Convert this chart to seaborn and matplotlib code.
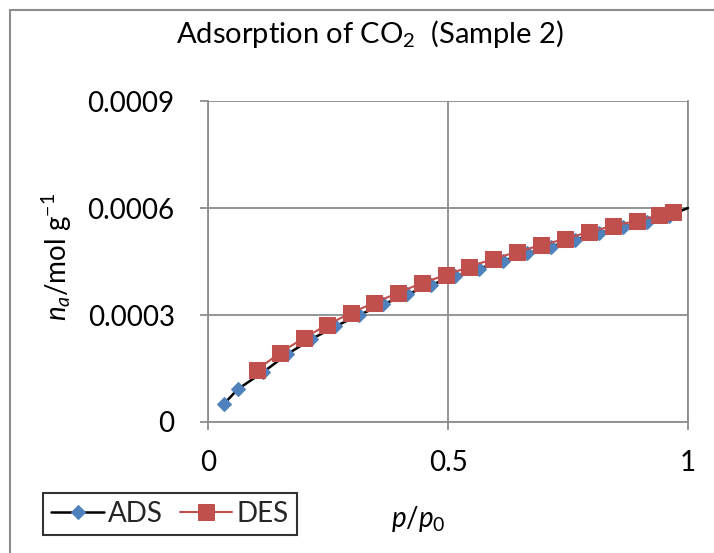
import matplotlib
matplotlib.use("Agg")
import matplotlib.pyplot as plt
import seaborn as sns
import pandas as pd
from matplotlib.patches import Rectangle

# ---- data ----
ads_x = [0.033, 0.0625, 0.115, 0.165, 0.215, 0.265, 0.315, 0.365, 0.415, 0.465,
         0.515, 0.565, 0.615, 0.665, 0.715, 0.765, 0.815, 0.865, 0.915, 0.96, 1.0]
ads_y = [0.0000505, 0.0000925, 0.000140, 0.000190, 0.000232, 0.000268, 0.000300,
         0.000330, 0.000358, 0.000385, 0.000408, 0.000430, 0.000452, 0.000473,
         0.000492, 0.000511, 0.000530, 0.000547, 0.000562, 0.000578, 0.000600]
des_x = [0.102, 0.150, 0.200, 0.248, 0.298, 0.346, 0.396, 0.446, 0.496, 0.544,
         0.594, 0.644, 0.694, 0.744, 0.794, 0.844, 0.894, 0.940, 0.969]
des_y = [0.000146, 0.000194, 0.000236, 0.000272, 0.000306, 0.000334, 0.000362,
         0.000390, 0.000412, 0.000435, 0.000457, 0.000477, 0.000496, 0.000513,
         0.000533, 0.000550, 0.000564, 0.000580, 0.000589]
x_ticks = [0, 0.5, 1]
x_tick_labels = ["0", "0.5", "1"]
y_ticks = [0, 0.0003, 0.0006, 0.0009]
y_tick_labels = ["0", "0.0003", "0.0006", "0.0009"]

sns.set_theme(style="white")
plt.rcParams['font.family'] = ['Lato', 'DejaVu Sans']
plt.rcParams['mathtext.fontset'] = 'custom'
plt.rcParams['mathtext.rm'] = 'Lato'
plt.rcParams['mathtext.it'] = 'Lato:italic'

fig = plt.figure(figsize=(7.14, 5.53), dpi=100)
ax = fig.add_axes([208/714, 1-422/553, 480/714, 321/553])

GRID = '#8c8c8c'
BLUE = '#4F81BD'
RED = '#C0504D'

ads_df = pd.DataFrame({"x": ads_x, "y": ads_y})
des_df = pd.DataFrame({"x": des_x, "y": des_y})

sns.lineplot(data=ads_df, x="x", y="y", ax=ax, sort=False, estimator=None,
             color='black', lw=1.8, marker='D', markersize=7.5,
             markerfacecolor=BLUE, markeredgecolor=BLUE,
             markevery=list(range(len(ads_x) - 1)), label='ADS', zorder=3, clip_on=False)
sns.lineplot(data=des_df, x="x", y="y", ax=ax, sort=False, estimator=None,
             color=RED, lw=1.5, marker='s', markersize=11,
             markerfacecolor=RED, markeredgecolor=RED, label='DES', zorder=4, clip_on=False)

ax.set_xlim(0, 1)
ax.set_ylim(0, 0.0009)
ax.set_xticks(x_ticks)
ax.set_xticklabels(x_tick_labels)
ax.set_yticks(y_ticks)
ax.set_yticklabels(y_tick_labels)
ax.grid(True, color=GRID, lw=1.3)
ax.set_axisbelow(True)
ax.spines['top'].set_visible(False)
for s in ['left', 'bottom', 'right']:
    ax.spines[s].set_color(GRID)
    ax.spines[s].set_linewidth(1.3)
ax.tick_params(axis='both', which='major', direction='out', length=6, width=1.3,
               color=GRID, labelsize=20, labelcolor='black', bottom=True, left=True)
ax.tick_params(axis='x', pad=14)
ax.tick_params(axis='y', pad=18)
ax.set_xlabel("")
ax.set_ylabel("")

fig.text(370/714, 1-34/553, r"Adsorption of CO$_\mathregular{2}$  (Sample 2)", ha='center', va='center',
         fontsize=21, color='black')
fig.text(57/714, 1-257/553, r"$n_a$/mol g$^{\mathregular{-1}}$", rotation=90, ha='center',
         va='center', fontsize=20, color='black')
fig.text(418/714, 1-519/553, r"$p$/$p_\mathregular{0}$", ha='center', va='center',
         fontsize=20, color='black')

leg = ax.legend(loc='center', bbox_to_anchor=(170/714, 1-514/553), bbox_transform=fig.transFigure,
                ncol=2, fontsize=20, frameon=True, fancybox=False, handlelength=1.9,
                handletextpad=0.15, columnspacing=0.6, borderpad=0.3, borderaxespad=0)
leg.get_frame().set_edgecolor('black')
leg.get_frame().set_linewidth(1.5)

fig.patches.append(Rectangle((10/714, -0.1), 1.2, 1 - 10/553 + 0.1, transform=fig.transFigure,
                             fill=False, edgecolor=GRID, lw=1.5))

fig.savefig("out.png", dpi=100, facecolor='white')
